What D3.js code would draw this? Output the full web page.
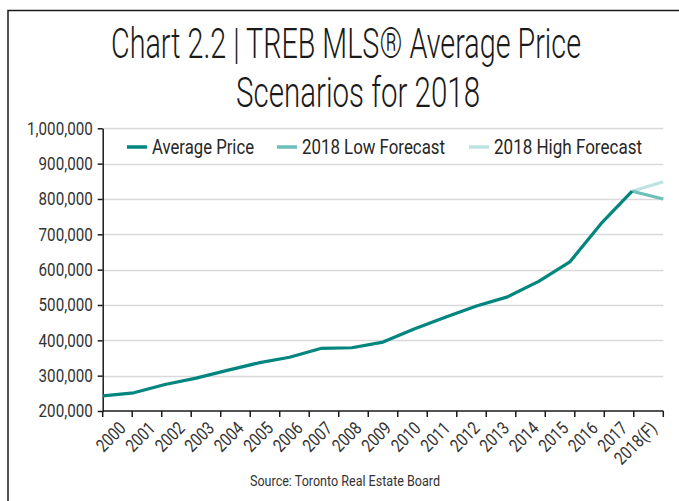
<!DOCTYPE html>
<html>
<head>
<meta charset="utf-8">
<script src="https://cdn.jsdelivr.net/npm/d3@7"></script>
<style>
  body { margin: 0; background: #fff; }
  svg { display: block; }
  text { font-family: Roboto, "Open Sans", sans-serif; }
</style>
</head>
<body>
<div id="chart"></div>
<script>
// ***** DATA *****
var years = ["2000","2001","2002","2003","2004","2005","2006","2007","2008","2009",
             "2010","2011","2012","2013","2014","2015","2016","2017","2018(F)"];
var avgPrice = [243000, 251500, 275000, 293000, 315000, 336000, 352000, 377000, 379000, 395000,
                432000, 465000, 497000, 523000, 567000, 622000, 730000, 822000];
var lowYears = ["2017", "2018(F)"];
var lowForecast = [822000, 800000];
var highYears = ["2017", "2018(F)"];
var highForecast = [822000, 849000];
var yTicks = [200000, 300000, 400000, 500000, 600000, 700000, 800000, 900000, 1000000];
var seriesNames = ["Average Price", "2018 Low Forecast", "2018 High Forecast"];
var seriesColors = ["#00857f", "#6dbfbb", "#bde2e0"];

var width = 679, height = 501;
var plotLeft = 102.7, plotRight = 663.3, plotTop = 128.3, plotBottom = 411;
var squeeze = 0.82;   // condensed look, no narrow font installed

var svg = d3.select("#chart").append("svg")
    .attr("width", width)
    .attr("height", height);

// frame
svg.append("rect")
    .attr("x", 8).attr("y", 10.5)
    .attr("width", 720).attr("height", 600)
    .attr("fill", "none")
    .attr("stroke", "#1a1a1a")
    .attr("stroke-width", 1.5);

// title
var title = svg.append("text")
    .attr("text-anchor", "middle")
    .attr("fill", "#1a1a1a")
    .style("font-weight", 300)
    .style("font-size", "42px");
title.append("tspan").attr("x", 346).attr("y", 58)
    .attr("textLength", 470).attr("lengthAdjust", "spacingAndGlyphs")
    .text("Chart 2.2 | TREB MLS\u00ae Average Price");
title.append("tspan").attr("x", 358).attr("y", 107)
    .attr("textLength", 244).attr("lengthAdjust", "spacingAndGlyphs")
    .text("Scenarios for 2018");

// scales
var xBand = d3.scaleBand().domain(years).range([plotLeft, plotRight]);
var xPoint = d3.scalePoint().domain(years).range([plotLeft, plotRight]);
var y = d3.scaleLinear().domain([200000, 1000000]).range([plotBottom, plotTop]);

// gridlines
svg.append("g")
    .selectAll("line")
    .data(yTicks.slice(1))
    .enter()
    .append("line")
    .attr("x1", plotLeft).attr("x2", plotRight)
    .attr("y1", function(d) { return Math.round(y(d)) + 0.5; })
    .attr("y2", function(d) { return Math.round(y(d)) + 0.5; })
    .attr("stroke", "#d9d9d9")
    .attr("stroke-width", 1.3);

// y axis
var yAxis = svg.append("g")
    .attr("transform", "translate(" + plotLeft + ",0)")
    .call(d3.axisLeft(y).tickValues(yTicks).tickFormat(d3.format(",")).tickSize(5).tickSizeOuter(0));
yAxis.select(".domain").attr("stroke", "#1a1a1a").attr("stroke-width", 1.5);
yAxis.selectAll(".tick line").attr("stroke", "#1a1a1a").attr("stroke-width", 1.5);
yAxis.selectAll(".tick text")
    .attr("x", 0)
    .attr("transform", "translate(-10,0) scale(" + squeeze + ",1)")
    .attr("fill", "#333")
    .style("font-family", "Roboto, sans-serif")
    .style("font-size", "18.5px");

// x axis: boundary ticks + labels centred in bands
var xAxis = svg.append("g")
    .attr("transform", "translate(0," + plotBottom + ")");
xAxis.append("line")
    .attr("x1", plotLeft).attr("x2", plotRight)
    .attr("stroke", "#1a1a1a").attr("stroke-width", 1.5);
xAxis.selectAll(".bt")
    .data(years.concat(["end"]))
    .enter()
    .append("line")
    .attr("class", "bt")
    .attr("x1", function(d, i) { return i < years.length ? xBand(d) : plotRight; })
    .attr("x2", function(d, i) { return i < years.length ? xBand(d) : plotRight; })
    .attr("y1", 0).attr("y2", 6)
    .attr("stroke", "#1a1a1a").attr("stroke-width", 1.5);
xAxis.selectAll(".xl")
    .data(years)
    .enter()
    .append("text")
    .attr("class", "xl")
    .attr("text-anchor", "end")
    .attr("dy", "0.35em")
    .attr("fill", "#333")
    .style("font-size", "18px")
    .attr("transform", function(d) {
        return "translate(" + (xBand(d) + xBand.bandwidth() / 2 + 5) + ",14) rotate(-45) scale(" + squeeze + ",1)";
    })
    .text(function(d) { return d; });

// lines
var line = d3.line()
    .x(function(d) { return xPoint(d.year); })
    .y(function(d) { return y(d.value); });

var avgData = avgPrice.map(function(v, i) { return { year: years[i], value: v }; });
var lowData = lowForecast.map(function(v, i) { return { year: lowYears[i], value: v }; });
var highData = highForecast.map(function(v, i) { return { year: highYears[i], value: v }; });

svg.append("path").datum(highData)
    .attr("d", line).attr("fill", "none")
    .attr("stroke", seriesColors[2]).attr("stroke-width", 3.2);
svg.append("path").datum(lowData)
    .attr("d", line).attr("fill", "none")
    .attr("stroke", seriesColors[1]).attr("stroke-width", 3.2);
svg.append("path").datum(avgData)
    .attr("d", line).attr("fill", "none")
    .attr("stroke", seriesColors[0]).attr("stroke-width", 3.2)
    .attr("stroke-linejoin", "round");

// legend
var legendX = [127, 277, 469];
var legendW = [102, 143, 148];
var legend = svg.selectAll(".legend")
    .data(seriesNames)
    .enter()
    .append("g")
    .attr("class", "legend")
    .attr("transform", function(d, i) { return "translate(" + legendX[i] + ",147)"; });
legend.append("line")
    .attr("x1", 0).attr("x2", 20)
    .attr("stroke", function(d, i) { return seriesColors[i]; })
    .attr("stroke-width", 3.5);
legend.append("text")
    .attr("x", 25)
    .attr("dy", "0.36em")
    .attr("fill", "#262626")
    .attr("textLength", function(d, i) { return legendW[i]; })
    .attr("lengthAdjust", "spacingAndGlyphs")
    .style("font-size", "20.5px")
    .text(function(d) { return d; });

// source
svg.append("text")
    .attr("x", 345).attr("y", 486)
    .attr("text-anchor", "middle")
    .attr("fill", "#333")
    .attr("textLength", 190)
    .attr("lengthAdjust", "spacingAndGlyphs")
    .style("font-size", "15.5px")
    .text("Source: Toronto Real Estate Board");
</script>
</body>
</html>
